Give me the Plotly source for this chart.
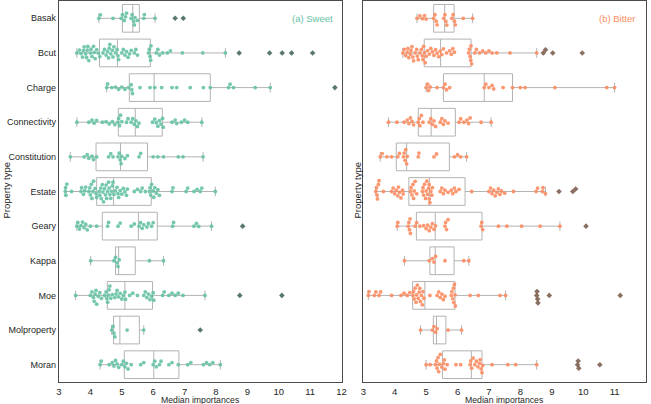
import math
import plotly.graph_objects as go

categories = ["Basak", "Bcut", "Charge", "Connectivity", "Constitution", "Estate",
              "Geary", "Kappa", "Moe", "Molproperty", "Moran"]

# ---- Sweet: per-category median importances (swarm points) ----
sweet_basak = [4.27, 4.32, 4.72, 4.98, 5.02, 5.08, 5.12, 5.15, 5.3, 5.33, 5.38, 5.4, 5.42, 5.5, 5.7, 5.72, 6.06, 6.7, 6.96]
sweet_bcut = [3.57, 3.65, 3.7, 3.75, 3.78, 3.8, 3.85, 3.88, 3.9, 3.92, 3.95, 4.0, 4.02, 4.05, 4.1, 4.12, 4.15, 4.2, 4.25, 4.3,
              4.4, 4.45, 4.5, 4.55, 4.58, 4.6, 4.62, 4.65, 4.7, 4.72, 4.75, 4.8, 4.85, 4.88, 4.9,
              5.0, 5.05, 5.1, 5.15, 5.2, 5.25, 5.3, 5.4, 5.45, 5.5,
              5.85, 5.88, 5.9, 5.92, 5.93, 6.1, 6.15, 6.2, 6.3, 6.45, 6.55,
              6.93, 7.58, 8.3, 8.74, 9.71, 10.11, 10.41, 11.08]
sweet_charge = [4.52, 4.55, 4.68, 4.8, 4.9, 5.0, 5.1, 5.22, 5.3, 5.32, 5.34, 5.58, 5.9, 6.05, 6.27, 6.6, 6.75,
                7.18, 7.6, 7.82, 8.4, 8.45, 8.56, 9.25, 9.73, 11.79]
sweet_connectivity = [3.57, 3.95, 4.05, 4.12, 4.2, 4.38, 4.5, 4.6, 4.7, 4.78, 4.88, 4.9, 4.93, 4.96, 5.0, 5.15, 5.2, 5.3,
                      5.35, 5.4, 5.45, 5.5, 5.55, 5.98, 6.05, 6.1, 6.15, 6.2, 6.25, 6.3, 6.32, 6.6, 6.7, 6.75, 6.9, 7.0, 7.1, 7.55]
sweet_constitution = [3.36, 3.8, 3.9, 3.95, 4.05, 4.1, 4.2, 4.58, 4.65, 4.72, 4.88, 4.92, 4.95, 4.98, 5.0, 5.1, 5.18,
                      5.55, 5.6, 6.0, 6.15, 6.33, 6.8, 6.95, 7.59]
sweet_estate = [3.2, 3.21, 3.22, 3.25, 3.4, 3.7, 3.72, 3.78, 3.82, 3.85,
                3.95, 3.98, 4.0, 4.03, 4.05, 4.08, 4.1, 4.15, 4.18, 4.2,
                4.28, 4.3, 4.33, 4.35, 4.38, 4.4, 4.42, 4.45, 4.48, 4.5, 4.52, 4.55, 4.58, 4.6, 4.62, 4.65, 4.68, 4.7, 4.72, 4.75,
                4.8, 4.85, 4.88, 4.9, 4.95, 5.0, 5.05, 5.1, 5.15, 5.18,
                5.4, 5.5, 5.6, 5.65, 5.75, 5.88, 5.9, 5.92, 5.95, 6.0, 6.02, 6.05, 6.1, 6.15, 6.2,
                6.6, 6.63, 7.05, 7.1, 7.3, 7.4, 7.5, 7.55, 7.98]
sweet_geary = [3.57, 3.6, 3.65, 3.7, 3.75, 3.8, 3.85, 3.9, 4.0, 4.2, 4.55, 4.58, 4.88, 4.95, 5.3, 5.4, 5.55, 5.6, 5.65,
               5.7, 5.8, 5.85, 5.95, 6.0, 6.62, 6.65, 7.3, 7.38, 7.45, 7.86, 8.85]
sweet_kappa = [4.01, 4.75, 4.8, 4.85, 4.88, 4.92, 5.88, 6.33]
sweet_moe = [3.53, 4.0, 4.05, 4.1, 4.12, 4.15, 4.18, 4.2, 4.25, 4.3, 4.35,
             4.45, 4.5, 4.52, 4.55, 4.58, 4.6, 4.62, 4.65, 4.7,
             4.78, 4.82, 4.85, 4.9, 4.95, 5.0, 5.05, 5.1, 5.12, 5.25, 5.35, 5.5,
             5.7, 5.75, 5.8, 5.85, 5.9, 5.95, 6.0, 6.02, 6.3, 6.35, 6.5, 6.6, 6.7, 6.8, 6.95,
             7.65, 8.76, 10.1]
sweet_molproperty = [4.68, 4.72, 4.75, 4.78, 5.17, 5.7, 7.5]
sweet_moran = [4.31, 4.35, 4.6, 4.7, 4.75, 4.8, 4.85, 4.9, 5.0, 5.05, 5.1, 5.15, 5.2, 5.3, 5.6, 5.7, 6.0, 6.05, 6.1,
               6.2, 6.25, 6.5, 6.6, 6.8, 7.1, 7.2, 7.6, 7.7, 7.8, 7.9, 8.14]

sweet_q1 = [5.02, 4.29, 5.24, 4.89, 4.18, 4.20, 4.38, 4.80, 4.54, 4.74, 5.08]
sweet_median = [5.35, 4.86, 6.03, 5.43, 4.96, 4.74, 5.53, 4.90, 5.10, 4.94, 6.02]
sweet_q3 = [5.56, 5.91, 7.82, 6.29, 5.82, 5.94, 6.13, 5.43, 5.98, 5.56, 6.82]
sweet_low = [4.27, 3.57, 4.52, 3.57, 3.36, 3.20, 3.57, 4.01, 3.53, 4.68, 4.31]
sweet_high = [6.06, 8.30, 9.73, 7.55, 7.59, 7.98, 7.86, 6.33, 7.65, 5.70, 8.14]

# ---- Bitter ----
bitter_basak = [4.71, 4.8, 4.88, 4.95, 5.0, 5.24, 5.28, 5.32, 5.35, 5.56, 5.6, 5.63, 5.66, 5.82, 5.86, 5.9, 5.93, 6.18, 6.48]
bitter_bcut = [4.26, 4.3, 4.35, 4.4, 4.42, 4.45, 4.5, 4.52, 4.55, 4.58, 4.6, 4.65, 4.7, 4.72, 4.75, 4.8, 4.85, 4.88, 4.9, 4.92,
               4.95, 4.97, 5.0, 5.05, 5.1, 5.15, 5.2, 5.25, 5.3, 5.35, 5.4, 5.45, 5.5, 5.55, 5.65,
               5.75, 5.8, 5.85, 5.9, 6.35, 6.38, 6.4, 6.42, 6.43, 6.45,
               6.55, 6.6, 6.7, 6.8, 6.9, 7.0, 7.1, 7.25, 7.67, 8.52, 8.73, 8.8, 9.03, 9.97]
bitter_charge = [5.0, 5.05, 5.08, 5.13, 5.35, 5.55, 5.6, 5.65, 5.75, 6.85, 6.9, 7.0, 7.1, 7.15, 7.45, 7.75, 8.0, 8.15,
                 9.1, 10.75, 11.0]
bitter_connectivity = [3.8, 4.07, 4.3, 4.4, 4.45, 4.5, 4.55, 4.6, 4.75, 4.78, 4.8, 4.85, 4.9, 5.1, 5.15, 5.2, 5.25, 5.3,
                       5.45, 5.5, 5.55, 5.6, 5.7, 6.05, 6.1, 6.2, 6.3, 6.35, 6.4, 6.75, 7.07]
bitter_constitution = [3.54, 3.6, 3.75, 3.9, 4.1, 4.15, 4.28, 4.3, 4.33, 4.35, 4.38, 4.4, 4.75, 4.77, 5.25, 5.33,
                       5.9, 6.0, 6.1, 6.29]
bitter_estate = [3.4, 3.42, 3.44, 3.45, 3.48, 3.5, 3.64, 3.9, 3.95, 4.0, 4.05, 4.1, 4.12, 4.15, 4.2, 4.25, 4.27,
                 4.5, 4.52, 4.55, 4.58, 4.6, 4.62, 4.65, 4.7,
                 4.88, 4.9, 4.92, 4.95, 4.98, 5.0, 5.02, 5.05, 5.08, 5.1, 5.1, 5.12, 5.15, 5.18, 5.2,
                 5.45, 5.5, 5.55, 5.6, 5.7, 5.8, 5.85, 5.9, 5.95, 6.05, 6.45,
                 7.0, 7.05, 7.1, 7.15, 7.2, 7.25, 7.3, 7.35, 7.4, 7.5, 7.78,
                 8.5, 8.55, 8.7, 8.72, 8.8, 9.23, 9.67, 9.76]
bitter_geary = [4.08, 4.1, 4.43, 4.45, 4.47, 4.49, 4.5, 4.65, 4.7, 4.8, 4.92, 5.0, 5.05, 5.1, 5.15, 5.2, 5.25, 5.3,
                5.6, 5.62, 5.65, 5.7, 6.75, 6.77, 6.8, 7.3, 7.57, 8.04, 8.63, 9.26, 10.09]
bitter_kappa = [4.31, 5.1, 5.2, 5.25, 5.3, 5.6, 6.2, 6.36]
bitter_moe = [3.16, 3.18, 3.35, 3.4, 3.5, 3.55, 3.9, 4.2, 4.3, 4.4, 4.48,
              4.58, 4.6, 4.62, 4.65, 4.68, 4.7, 4.72, 4.75, 4.78, 4.8, 4.82, 4.85, 4.88, 4.9, 4.93,
              5.12, 5.35, 5.4, 5.45, 5.5, 5.55, 5.6, 5.8, 5.82, 5.85, 5.87, 5.88, 5.9, 5.92, 5.93,
              6.4, 6.66, 7.35, 7.53, 8.52, 8.53, 8.55, 8.56, 8.92, 11.18]
bitter_molproperty = [4.82, 5.2, 5.25, 5.3, 5.35, 5.7, 6.13]
bitter_moran = [5.0, 5.13, 5.3, 5.33, 5.35, 5.38, 5.4, 5.42, 5.45, 5.5, 5.55, 5.58, 5.6, 5.67, 5.95, 6.1,
                6.4, 6.42, 6.45, 6.5, 6.55, 6.6, 6.65, 6.7, 6.72, 6.75, 6.78, 6.8,
                7.1, 7.6, 7.85, 8.52, 9.82, 9.84, 9.86, 10.53]

bitter_q1 = [5.24, 4.94, 5.55, 4.75, 4.05, 4.45, 4.69, 5.12, 4.57, 5.23, 5.52]
bitter_median = [5.59, 5.46, 6.85, 5.16, 4.38, 5.10, 5.29, 5.29, 4.96, 5.33, 6.44]
bitter_q3 = [5.89, 6.43, 7.75, 5.93, 5.74, 6.24, 6.78, 5.89, 5.92, 5.63, 6.78]
bitter_low = [4.71, 4.26, 5.00, 3.80, 3.54, 3.40, 4.08, 4.31, 3.16, 4.82, 5.00]
bitter_high = [6.48, 8.52, 11.00, 7.07, 6.29, 8.80, 9.26, 6.36, 7.53, 6.13, 8.52]

sweet_points = [sweet_basak, sweet_bcut, sweet_charge, sweet_connectivity, sweet_constitution, sweet_estate,
                sweet_geary, sweet_kappa, sweet_moe, sweet_molproperty, sweet_moran]
bitter_points = [bitter_basak, bitter_bcut, bitter_charge, bitter_connectivity, bitter_constitution, bitter_estate,
                 bitter_geary, bitter_kappa, bitter_moe, bitter_molproperty, bitter_moran]

SWEET = "#66c2a5"
BITTER = "#fc8d62"
BOXLINE = "#b3b3b3"
TEXT = "#262626"
FONT = "Liberation Sans, Arial, sans-serif"

PX_X = 31.4   # pixels per x unit
PX_Y = 34.6   # pixels per category
DIAM = 3.8


def swarm_offsets(values):
    order = sorted(range(len(values)), key=lambda i: values[i])
    placed = []
    offs = [0.0] * len(values)
    for i in order:
        x = values[i] * PX_X
        neigh = [(px, py) for px, py in placed if abs(px - x) < DIAM]
        cands = [0.0]
        for px, py in neigh:
            dy = math.sqrt(max(DIAM * DIAM - (px - x) ** 2, 0))
            cands += [py + dy, py - dy]
        cands.sort(key=lambda c: (abs(c), c))
        chosen = cands[0]
        for c in cands:
            if all((px - x) ** 2 + (py - c) ** 2 >= DIAM * DIAM - 1e-6 for px, py in neigh):
                chosen = c
                break
        placed.append((x, chosen))
        offs[i] = chosen / PX_Y
    return offs


fig = go.Figure()
positions = list(range(len(categories)))

panels = [
    ("x", "y", sweet_points, sweet_q1, sweet_median, sweet_q3, sweet_low, sweet_high, SWEET, "rgba(70,105,95,0.9)"),
    ("x2", "y2", bitter_points, bitter_q1, bitter_median, bitter_q3, bitter_low, bitter_high, BITTER, "rgba(125,95,80,0.9)"),
]

for xa, ya, pts, q1, med, q3, lo, hi, col, flier_col in panels:
    fig.add_trace(go.Box(
        y=positions, q1=q1, median=med, q3=q3, lowerfence=lo, upperfence=hi,
        orientation="h", width=0.8, whiskerwidth=0.35,
        fillcolor="rgba(255,255,255,0)", line=dict(color=BOXLINE, width=1),
        boxpoints=False, xaxis=xa, yaxis=ya, showlegend=False, hoverinfo="skip",
    ))
    xs, ys, fx, fy = [], [], [], []
    for k, vals in enumerate(pts):
        offs = swarm_offsets(vals)
        for v, o in zip(vals, offs):
            if v < lo[k] - 1e-9 or v > hi[k] + 1e-9:
                fx.append(v)
                fy.append(k + o)
            else:
                xs.append(v)
                ys.append(k + o)
    fig.add_trace(go.Scatter(
        x=xs, y=ys, mode="markers", marker=dict(color=col, size=DIAM, opacity=0.9, line=dict(width=0)),
        xaxis=xa, yaxis=ya, showlegend=False, hoverinfo="x",
    ))
    fig.add_trace(go.Scatter(
        x=fx, y=fy, mode="markers", marker=dict(color=flier_col, size=4.3, symbol="diamond", line=dict(width=0)),
        xaxis=xa, yaxis=ya, showlegend=False, hoverinfo="x",
    ))

axis_common = dict(showline=True, mirror=True, linecolor="#4a4a4a", linewidth=1.2,
                   showgrid=False, zeroline=False, ticks="")

W, H = 651, 404
L, R, T, B = 59, 5, 1, 22
pw = W - L - R
left_end = (341.5 - L) / pw
right_start = (363.3 - L) / pw

fig.update_layout(
    width=W, height=H,
    margin=dict(l=L, r=R, t=T, b=B, autoexpand=False),
    paper_bgcolor="white", plot_bgcolor="white",
    font=dict(family=FONT, size=9, color=TEXT),
    xaxis=dict(domain=[0, left_end], range=[3, 12], tickvals=list(range(3, 13)), anchor="y",
               tickfont=dict(size=9.5), **axis_common),
    xaxis2=dict(domain=[right_start, 1], range=[3, 12], tickvals=list(range(3, 13)), anchor="y2",
                tickfont=dict(size=9.5), **axis_common),
    yaxis=dict(domain=[0, 1], range=[10.5, -0.5], tickvals=positions, ticktext=categories,
               anchor="x", tickfont=dict(size=9), **axis_common),
    yaxis2=dict(domain=[0, 1], range=[10.5, -0.5], tickvals=positions, showticklabels=False,
                anchor="x2", **axis_common),
)

plot_h = H - T - B


def px_to_paper_x(px):
    return (px - L) / pw


def py_to_paper_y(py):
    return (H - B - py) / plot_h


for xp in (5.5, 356.5):
    fig.add_annotation(text="Property type", textangle=-90, xref="paper", yref="paper",
                       x=px_to_paper_x(xp), y=py_to_paper_y(190), xanchor="center", yanchor="middle",
                       showarrow=False, font=dict(size=9.5, color=TEXT))
for xp in (200.5, 504.5):
    fig.add_annotation(text="Median importances", xref="paper", yref="paper",
                       x=px_to_paper_x(xp), y=py_to_paper_y(399.5), xanchor="center", yanchor="middle",
                       showarrow=False, font=dict(size=8.7, color=TEXT))
fig.add_annotation(text="(a) Sweet", xref="x", yref="y", x=11.8, y=0, xanchor="right", yanchor="middle",
                   showarrow=False, font=dict(size=9.5, color=SWEET))
fig.add_annotation(text="(b) Bitter", xref="x2", yref="y2", x=11.7, y=0, xanchor="right", yanchor="middle",
                   showarrow=False, font=dict(size=9.5, color=BITTER))

fig.write_html("out.html", config={"displayModeBar": False},
               post_script="document.body.style.margin='0';document.body.style.overflow='hidden';")
